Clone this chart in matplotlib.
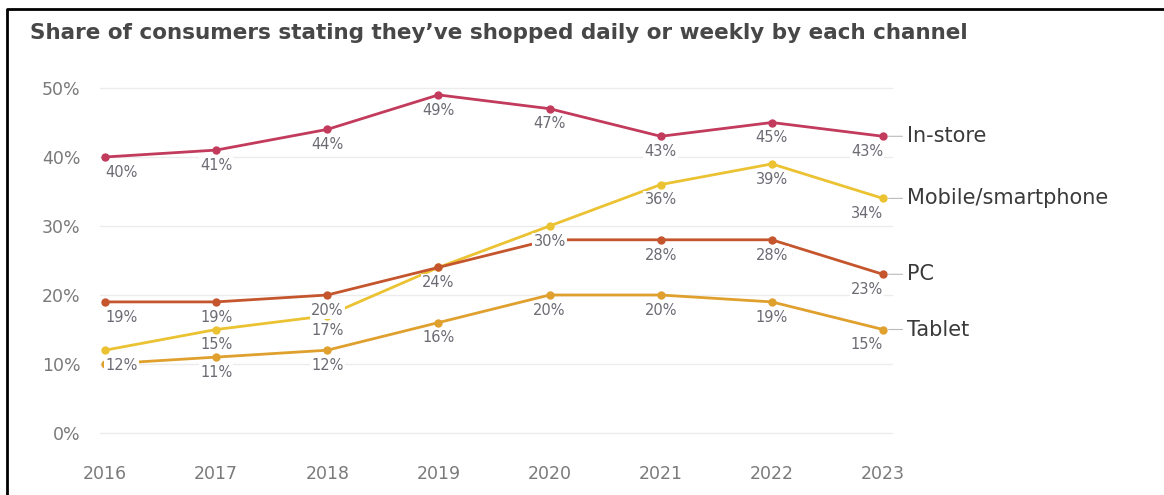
import matplotlib.pyplot as plt
from matplotlib.lines import Line2D

# data
years = [2016, 2017, 2018, 2019, 2020, 2021, 2022, 2023]
in_store = [40, 41, 44, 49, 47, 43, 45, 43]
mobile = [12, 15, 17, 24, 30, 36, 39, 34]
pc = [19, 19, 20, 24, 28, 28, 28, 23]
tablet = [10, 11, 12, 16, 20, 20, 19, 15]

series_names = ['In-store', 'Mobile/smartphone', 'PC', 'Tablet']
series_values = [in_store, mobile, pc, tablet]
series_colors = ['#c23a5c', '#ebc232', '#c4552d', '#dfa02e']
# which value labels are visible (overlapping ones are hidden in the original)
label_shown = [
    [1, 1, 1, 1, 1, 1, 1, 1],
    [1, 1, 1, 1, 1, 1, 1, 1],
    [1, 1, 1, 0, 0, 1, 1, 1],
    [0, 1, 1, 1, 1, 1, 1, 1],
]
y_ticks = [0, 10, 20, 30, 40, 50]

W, H = 1164, 495
fig = plt.figure(figsize=(W / 100, H / 100), dpi=100)

# map pixel positions of the reference onto the axes
px_x0, px_x1 = 105, 883      # 2016 and 2023
px_y0, px_y50 = 433, 88      # 0% and 50%
sx = (px_x1 - px_x0) / (years[-1] - years[0])
sy = (px_y0 - px_y50) / 50
ax_left, ax_right = 100, 893
ymin, ymax = -1, 51
ax_bottom = px_y0 + (0 - ymin) * sy
ax_top = px_y50 - (ymax - 50) * sy
ax = fig.add_axes([ax_left / W, 1 - ax_bottom / H,
                   (ax_right - ax_left) / W, (ax_bottom - ax_top) / H])
ax.set_xlim(years[0] - (px_x0 - ax_left) / sx, years[-1] + (ax_right - px_x1) / sx)
ax.set_ylim(ymin, ymax)

for s in ax.spines.values():
    s.set_visible(False)
ax.set_yticks(y_ticks)
ax.set_yticklabels([f'{t}%' for t in y_ticks])
ax.set_xticks(years)
ax.tick_params(axis='both', length=0, labelsize=12.5, labelcolor='#7a7a7a')
ax.tick_params(axis='y', pad=14)
ax.tick_params(axis='x', pad=18)
ax.grid(axis='y', color='#ececec', lw=1)
ax.set_axisbelow(True)

label_color = '#6b6b74'
for name, vals, col, shown in zip(series_names, series_values, series_colors, label_shown):
    ax.plot(years, vals, color=col, lw=2, marker='o', ms=5, zorder=3, clip_on=False)
    for i, (yr, v) in enumerate(zip(years, vals)):
        if not shown[i]:
            continue
        ha = 'center'
        if i == 0:
            ha = 'left'
        elif i == len(years) - 1:
            ha = 'right'
        ax.annotate(f'{v}%', xy=(yr, v), xytext=(0, -11), textcoords='offset points',
                    ha=ha, va='center', fontsize=10.5, color=label_color, zorder=6,
                    bbox=dict(boxstyle='square,pad=0.08', fc='white', ec='none'))
    # series name at the end of the line
    ax.annotate(name, xy=(years[-1], vals[-1]), xytext=(17, 0), textcoords='offset points',
                ha='left', va='center', fontsize=15, color='#3a3a3a',
                arrowprops=dict(arrowstyle='-', color='#bbbbbb', lw=0.8, shrinkA=1, shrinkB=4))

fig.text(30 / W, 1 - 33 / H, 'Share of consumers stating they\u2019ve shopped daily or weekly by each channel',
         fontsize=15.5, fontweight='bold', color='#474747', ha='left', va='center')

# partial black frame (left and top edges)
fig.add_artist(Line2D([7 / W, 7 / W, 1.01], [-0.01, 1 - 9 / H, 1 - 9 / H],
                      transform=fig.transFigure, color='black', lw=2))

fig.savefig('out.png', dpi=100)
